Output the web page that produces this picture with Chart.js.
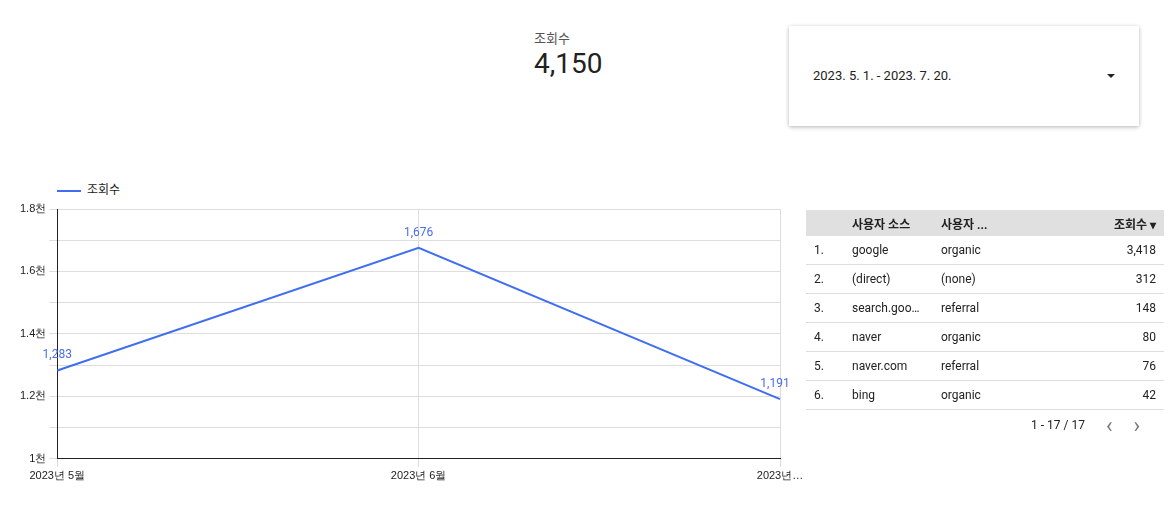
<!DOCTYPE html>
<html><head><meta charset="utf-8">
<script src="https://cdn.jsdelivr.net/npm/chart.js@4"></script>
<style>
body{margin:0;width:1169px;height:515px;background:#fff;font-family:Roboto,"Noto Sans CJK KR",sans-serif;position:relative;overflow:hidden}
#score{position:absolute;left:534px;top:28px}
#score .t{font-size:13px;color:#555}
#score .v{font-size:28px;color:#222;margin-top:0px}
#date{position:absolute;left:789px;top:26px;width:350px;height:100px;box-shadow:0 1px 4px rgba(0,0,0,.3);font-size:13px;color:#222}
#date span{position:absolute;left:24px;top:42px}
#date i{position:absolute;right:24px;top:48px;border:4px solid transparent;border-top:4px solid #222;border-bottom:0}
#wrap{position:absolute;left:0;top:195px;width:812px;height:291px}
#leg{position:absolute;left:57px;top:180px;font-size:12px;color:#222}
#leg i{display:inline-block;width:24px;height:2px;background:#3f6ff0;vertical-align:middle;margin-right:6px}
table{position:absolute;left:806px;top:210px;width:358px;border-collapse:collapse;font-size:12px;color:#222}
th{background:#e0e0e0;height:26px;text-align:left;font-weight:bold;padding:0}
td{height:28px;border-bottom:1px solid #ddd;padding:0}
.r{text-align:right;padding-right:8px}
#pg{position:absolute;left:1031px;top:413px;font-size:12px;color:#222}
#pg b{font-weight:normal;color:#777;margin-left:18px;font-size:22px;vertical-align:middle}
</style></head><body>
<div id="score"><div class="t">조회수</div><div class="v">4,150</div></div>
<div id="date"><span>2023. 5. 1. - 2023. 7. 20.</span><i></i></div>
<div id="leg"><i></i>조회수</div>
<div id="wrap"><canvas id="c"></canvas></div>
<table id="tbl"><thead><tr><th style="width:46px"></th><th style="width:89px">사용자 소스</th><th>사용자 ...</th><th class="r">조회수 ▾</th></tr></thead><tbody></tbody></table>
<div id="pg">1 - 17 / 17 <b>&lsaquo;</b> <b>&rsaquo;</b></div>
<script>
const months = ["2023년 5월", "2023년 6월", "2023년…"];
const views = [1283, 1676, 1191];
const sources = ["google", "(direct)", "search.goo…", "naver", "naver.com", "bing"];
const mediums = ["organic", "(none)", "referral", "organic", "referral", "organic"];
const sourceViews = [3418, 312, 148, 80, 76, 42];

const tb = document.querySelector("#tbl tbody");
sources.forEach((s, i) => {
  const tr = document.createElement("tr");
  tr.innerHTML = `<td style="padding-left:8px">${i + 1}.</td><td>${s}</td><td>${mediums[i]}</td><td class="r">${sourceViews[i].toLocaleString("en-US")}</td>`;
  tb.appendChild(tr);
});

const labelPlugin = {
  id: "labels",
  afterDatasetsDraw(chart) {
    const c = chart.ctx;
    const meta = chart.getDatasetMeta(0);
    c.save();
    c.font = "12px Roboto";
    c.fillStyle = "#4a6cf0";
    c.textAlign = "center";
    meta.data.forEach((p, i) => {
      let x = p.x;
      if (i === meta.data.length - 1) x -= 5;
      c.fillText(views[i].toLocaleString("en-US"), x, p.y - 12);
    });
    c.restore();
  }
};

new Chart(document.getElementById("c"), {
  type: "line",
  data: { labels: months, datasets: [{ label: "조회수", data: views, borderColor: "#3f6ff0", borderWidth: 2, pointRadius: 0, tension: 0 }] },
  options: {
    responsive: true, maintainAspectRatio: false, animation: false,
    layout: { padding: { left: 17, right: 32, top: 14 } },
    plugins: { legend: { display: false }, tooltip: { enabled: false } },
    scales: {
      x: { grid: { color: "#ddd" }, border: { color: "#222" }, ticks: { color: "#222", font: { size: 11 }, maxRotation: 0 } },
      y: { min: 1000, max: 1800, grid: { color: "#ddd" }, border: { color: "#222" },
        ticks: { stepSize: 100, color: "#222", font: { size: 11 }, callback: v => v % 200 === 0 ? (v / 1000) + "천" : "" } }
    }
  },
  plugins: [labelPlugin]
});
</script>
</body></html>
